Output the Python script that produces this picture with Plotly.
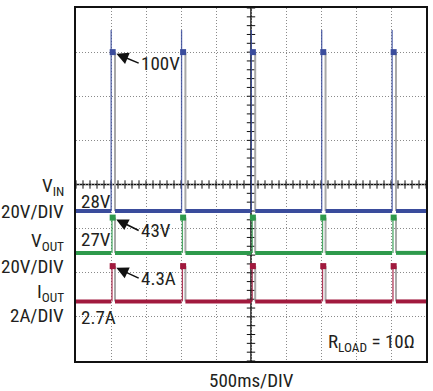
import plotly.graph_objects as go

# ---------------- data (read from the scope shot) ----------------
time_range_ms = [0, 5000]          # 10 div x 500 ms/div
time_per_div_ms = 500

spike_start_ms = [502, 1508, 2505, 3510, 4516]
pulse_width_ms = 55
peak_offset_ms = 22
edge_offset_ms = 12

vin_base_v = 28
vin_peak_v = 100
vin_overshoot_v = 110
vout_base_v = 27
vout_peak_v = 43
iout_base_a = 2.7
iout_peak_a = 4.3

vin_range_v = [-40, 120]    # 20 V/div
vout_range_v = [-22, 138]   # 20 V/div
iout_range_a = [0, 16]      # 2 A/div

BLUE = "#3a4c9c"
GREEN = "#2e9a4c"
RED = "#a11a3e"
EDGE = "#a8a8a8"
TXT = "#231f20"
FONT = "Liberation Sans Narrow, Arial Narrow, Roboto Condensed, sans-serif"

W, H = 433, 391
L, R, T, B = 76, 5, 8, 30
PW, PH = W - L - R, H - T - B


def px(x):
    return (x - L) / PW


def py(y):
    return (H - B - y) / PH


def baseline(level):
    xs, ys = [time_range_ms[0]], [level]
    for t0 in spike_start_ms:
        xs += [t0, None, t0 + pulse_width_ms]
        ys += [level, None, level]
    xs.append(time_range_ms[1])
    ys.append(level)
    return xs, ys


def edges(t_off, low, high):
    xs, ys = [], []
    for t0 in spike_start_ms:
        xs += [t0 + t_off, t0 + t_off, None]
        ys += [low, high, None]
    return xs, ys


fig = go.Figure()

# center graticule ticks
tick_x = list(range(time_range_ms[0], time_range_ms[1] + 1, time_per_div_ms // 5))
center_v = (vin_range_v[0] + vin_range_v[1]) / 2
fig.add_trace(go.Scatter(x=tick_x, y=[center_v] * len(tick_x), mode="markers",
                         marker=dict(symbol="line-ns-open", size=6, color="#111",
                                     line=dict(color="#111", width=1)),
                         hoverinfo="skip", yaxis="y"))
tick_y = list(range(vin_range_v[0], vin_range_v[1] + 1, 4))
fig.add_trace(go.Scatter(x=[2500] * len(tick_y), y=tick_y, mode="markers",
                         marker=dict(symbol="line-ew-open", size=6, color="#111",
                                     line=dict(color="#111", width=1)),
                         hoverinfo="skip", yaxis="y"))

channels = [
    ("y", vin_base_v, vin_peak_v, vin_overshoot_v, 0, BLUE),
    ("y2", vout_base_v, vout_peak_v, vout_peak_v, edge_offset_ms, GREEN),
    ("y3", iout_base_a, iout_peak_a, iout_peak_a, edge_offset_ms, RED),
]

for yax, base, peak, top, roff, col in channels:
    # falling edges (light gray)
    fx, fy = edges(pulse_width_ms, base, peak)
    fig.add_trace(go.Scatter(x=fx, y=fy, mode="lines", line=dict(color=EDGE, width=2),
                             hoverinfo="skip", yaxis=yax))
    # rising edges
    rx, ry = edges(roff, base, top)
    fig.add_trace(go.Scatter(x=rx, y=ry, mode="lines", line=dict(color=col, width=1.3),
                             opacity=0.85, hoverinfo="skip", yaxis=yax))
    # baseline
    bx, by = baseline(base)
    fig.add_trace(go.Scatter(x=bx, y=by, mode="lines", line=dict(color=col, width=4),
                             hoverinfo="skip", yaxis=yax))
    # peak markers
    fig.add_trace(go.Scatter(x=[t + peak_offset_ms for t in spike_start_ms],
                             y=[peak] * len(spike_start_ms), mode="markers",
                             marker=dict(symbol="square", size=6, color=col),
                             hoverinfo="skip", yaxis=yax))

ann = []


def text(s, x, y, xa="left", size=19):
    ann.append(dict(text=s, x=px(x), y=py(y), xref="paper", yref="paper", xanchor=xa,
                    yanchor="middle", showarrow=False, font=dict(size=size, color=TXT, family=FONT)))


text("V<sub>IN</sub>", 66, 187, "right")
text("20V/DIV", 66, 211, "right")
text("28V", 79, 201)
text("27V", 79, 239)
text("V<sub>OUT</sub>", 66, 242, "right")
text("20V/DIV", 66, 266, "right")
text("I<sub>OUT</sub>", 66, 292, "right")
text("2A/DIV", 66, 315, "right")
text("2.7A", 79, 317)
text("R<sub>LOAD</sub> = 10Ω", 419, 342, "right")
text("500ms/DIV", 252, 380, "center")

# labelled peaks with arrows pointing at the first pulse
first = spike_start_ms[0] + peak_offset_ms
for label, yref, val, ay in (("100V", "y", vin_peak_v, 11),
                             ("43V", "y2", vout_peak_v, 13),
                             ("4.3A", "y3", iout_peak_a, 12)):
    ann.append(dict(text=label, x=first, y=val, xref="x", yref=yref, showarrow=True,
                    ax=26, ay=ay, xanchor="left", yanchor="middle",
                    arrowhead=2, arrowsize=1.5, arrowwidth=1.6,
                    arrowcolor="#111", standoff=4,
                    font=dict(size=19, color=TXT, family=FONT)))

fig.update_layout(
    width=W, height=H,
    margin=dict(l=L, r=R, t=T, b=B),
    paper_bgcolor="white", plot_bgcolor="white",
    showlegend=False,
    xaxis=dict(range=time_range_ms, dtick=time_per_div_ms, tick0=0, showgrid=True,
               griddash="1px,2px", gridcolor="#8a8a8a", gridwidth=1, showticklabels=False,
               ticks="", zeroline=False, showline=True, mirror=True,
               linecolor="#111", linewidth=2),
    yaxis=dict(range=vin_range_v, dtick=20, tick0=0, showgrid=True, griddash="1px,2px",
               gridcolor="#8a8a8a", gridwidth=1, showticklabels=False, ticks="",
               zeroline=False, showline=True, mirror=True, linecolor="#111", linewidth=2),
    yaxis2=dict(range=vout_range_v, overlaying="y", visible=False, showgrid=False),
    yaxis3=dict(range=iout_range_a, overlaying="y", visible=False, showgrid=False),
    annotations=ann,
    shapes=[
        dict(type="line", xref="x", yref="paper", x0=2500, x1=2500, y0=0, y1=1,
             line=dict(color="#111", width=1.5), layer="below"),
        dict(type="line", xref="paper", yref="paper", x0=0, x1=1, y0=0.5, y1=0.5,
             line=dict(color="#111", width=1.5), layer="below"),
    ],
)

fig.write_html("out.html", config={"displayModeBar": False},
               post_script="document.body.style.margin='0';")
